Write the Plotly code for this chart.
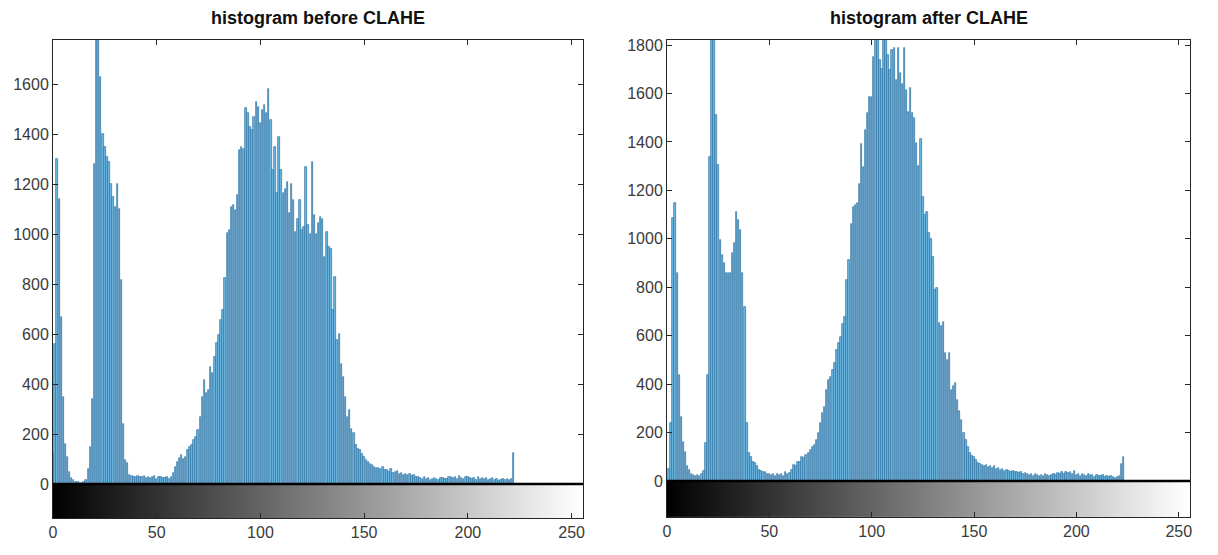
import numpy as np
import plotly.graph_objects as go

# ---- data (counts per gray level 0..255) ----
before_counts = [
    120, 560, 1300, 1140, 670, 350, 160, 110, 50, 25,
    15, 10, 8, 6, 5, 8, 15, 60, 150, 340,
    1280, 1780, 1780, 1630, 1400, 1350, 1310, 1290, 1200, 1150,
    1110, 1200, 1100, 815, 240, 95, 85, 35, 32, 30,
    28, 31, 27, 29, 33, 26, 30, 24, 28, 31,
    22, 27, 30, 25, 24, 28, 22, 30, 45, 70,
    90, 105, 116, 100, 110, 136, 150, 156, 176, 190,
    216, 270, 350, 416, 363, 376, 470, 443, 510, 563,
    596, 656, 696, 823, 1003, 1016, 1110, 1116, 1096, 1156,
    1336, 1350, 1340, 1503, 1483, 1430, 1416, 1470, 1530, 1510,
    1443, 1496, 1516, 1483, 1580, 1456, 1256, 1350, 1163, 1390,
    1256, 1163, 1180, 1210, 1083, 1200, 1136, 1010, 1060, 1136,
    1016, 1030, 1270, 1036, 1000, 1290, 1076, 1000, 1043, 1070,
    1060, 910, 1010, 950, 940, 696, 830, 576, 600, 480,
    430, 350, 270, 296, 220, 203, 156, 140, 136, 120,
    110, 96, 90, 80, 76, 70, 63, 65, 60, 70,
    55, 55, 50, 60, 45, 48, 52, 40, 45, 38,
    42, 35, 40, 32, 36, 30, 28, 25, 22, 27,
    20, 24, 18, 22, 26, 20, 17, 23, 25, 19,
    22, 28, 30, 24, 27, 20, 32, 25, 22, 28,
    30, 24, 20, 26, 18, 27, 22, 25, 19, 23,
    15, 20, 24, 17, 22, 14, 18, 20, 15, 22,
    18, 20, 125, 0, 0, 0, 0, 0, 0, 0,
    0, 0, 0, 0, 0, 0, 0, 0, 0, 0,
    0, 0, 0, 0, 0, 0, 0, 0, 0, 0,
    0, 0, 0, 0, 0, 0,
]

after_counts = [
    0, 50, 238, 1084, 1146, 857, 437, 265, 162, 121,
    60, 45, 30, 25, 22, 25, 20, 30, 40, 155,
    437, 1339, 1820, 1820, 1510, 1304, 995, 933, 898, 860,
    857, 857, 940, 981, 1112, 1077, 1036, 860, 720, 238,
    114, 100, 80, 73, 60, 45, 40, 35, 38, 30,
    28, 25, 30, 22, 28, 25, 30, 22, 35, 28,
    32, 45, 66, 60, 80, 80, 100, 95, 107, 115,
    128, 142, 150, 169, 200, 238, 280, 307, 376, 417,
    430, 460, 486, 540, 570, 596, 650, 678, 830, 912,
    1063, 1132, 1140, 1146, 1228, 1393, 1297, 1450, 1518, 1586,
    1586, 1750, 1820, 1820, 1738, 1700, 1820, 1820, 1760, 1697,
    1779, 1786, 1655, 1786, 1683, 1640, 1786, 1614, 1525, 1621,
    1518, 1500, 1394, 1300, 1414, 1174, 1100, 1112, 1022, 1000,
    926, 788, 795, 651, 640, 658, 527, 500, 527, 376,
    390, 403, 334, 290, 252, 197, 170, 142, 114, 105,
    100, 85, 73, 70, 66, 60, 65, 58, 62, 55,
    60, 50, 55, 45, 48, 42, 45, 40, 38, 42,
    35, 38, 32, 35, 30, 33, 28, 25, 30, 22,
    27, 24, 20, 26, 22, 28, 24, 20, 25, 30,
    26, 33, 28, 35, 30, 38, 32, 36, 28, 40,
    26, 30, 22, 28, 25, 20, 27, 23, 26, 18,
    24, 22, 20, 25, 18, 22, 15, 20, 18, 14,
    16, 20, 70, 100, 0, 0, 0, 0, 0, 0,
    0, 0, 0, 0, 0, 0, 0, 0, 0, 0,
    0, 0, 0, 0, 0, 0, 0, 0, 0, 0,
    0, 0, 0, 0, 0, 0,
]

titles = ["histogram before CLAHE", "histogram after CLAHE"]
x_ticks = [0, 50, 100, 150, 200, 250]
y_ticks_before = [0, 200, 400, 600, 800, 1000, 1200, 1400, 1600]
y_ticks_after = [0, 200, 400, 600, 800, 1000, 1200, 1400, 1600, 1800]

# ---- layout geometry (pixels, page coordinates) ----
W, H = 1218, 555
OFF = 8  # page body margin
panels = [
    dict(counts=before_counts, title=titles[0], yt=y_ticks_before,
         x0=53, x1=583, top=40, bot=518, yr=(-136, 1776)),
    dict(counts=after_counts, title=titles[1], yt=y_ticks_after,
         x0=667, x1=1190, top=40, bot=517, yr=(-149, 1821)),
]

AX = "#262626"
TICKFONT = dict(family="Liberation Sans, Arial, sans-serif", size=16, color="#3a3a3a")

fig = go.Figure()
annotations = []
shapes = []
for i, p in enumerate(panels, start=1):
    xa = "x" if i == 1 else f"x{i}"
    ya = "y" if i == 1 else f"y{i}"
    n = len(p["counts"])
    bins = np.arange(n)
    fig.add_trace(go.Heatmap(
        z=[list(range(256))],
        x=np.arange(257) - 0.5,
        y=[p["yr"][0], 0],
        colorscale=[[0, "#000000"], [1, "#ffffff"]],
        showscale=False, hoverinfo="skip",
        xaxis=xa, yaxis=ya,
    ))
    fig.add_trace(go.Bar(
        x=bins, y=p["counts"], width=0.7,
        marker=dict(color="#6cb8e2", line=dict(color="#2e73a4", width=0.7)),
        xaxis=xa, yaxis=ya, showlegend=False,
    ))
    xd = [(p["x0"] - OFF) / W, (p["x1"] - OFF) / W]
    yd = [1 - (p["bot"] - OFF) / H, 1 - (p["top"] - OFF) / H]
    common = dict(showline=True, linecolor=AX, linewidth=1, mirror="ticks",
                  ticks="inside", ticklen=5, tickcolor=AX, tickwidth=1,
                  showgrid=False, zeroline=False, tickfont=TICKFONT,
                  automargin=False)
    fig.update_layout(**{
        ("xaxis" if i == 1 else f"xaxis{i}"): dict(
            domain=xd, range=[0, 255.5], tickvals=x_ticks, anchor=ya, **common),
        ("yaxis" if i == 1 else f"yaxis{i}"): dict(
            domain=yd, range=list(p["yr"]), tickvals=p["yt"], anchor=xa, **common),
    })
    shapes.append(dict(type="line", xref=f"{xa} domain", yref=ya,
                       x0=0, x1=1, y0=0, y1=0,
                       line=dict(color="#000000", width=2.5)))
    annotations.append(dict(
        text=f"<b>{p['title']}</b>", xref="paper", yref="paper",
        x=((p["x0"] + p["x1"]) / 2 - OFF) / W, y=1 - (18 - OFF) / H,
        xanchor="center", yanchor="middle", showarrow=False,
        font=dict(family="Liberation Sans, Arial, sans-serif", size=18, color="#111111"),
    ))

fig.update_layout(
    width=W, height=H,
    margin=dict(l=0, r=0, t=0, b=0),
    paper_bgcolor="white", plot_bgcolor="white",
    showlegend=False, bargap=0,
    annotations=annotations, shapes=shapes,
)

fig.write_html("out.html")
